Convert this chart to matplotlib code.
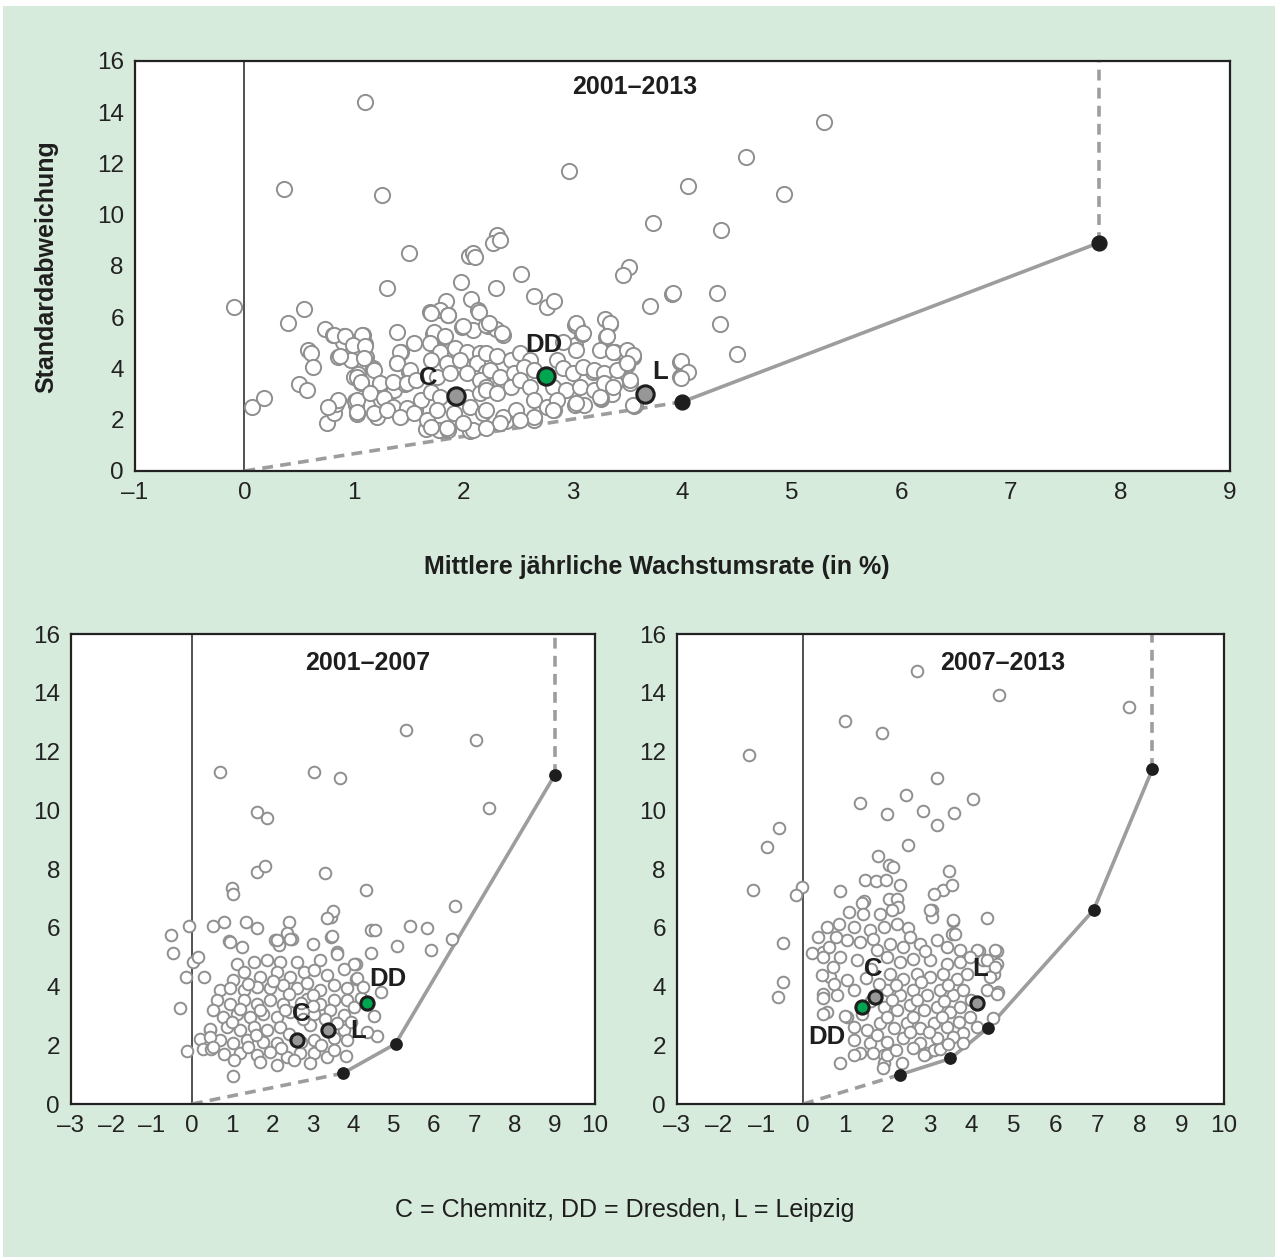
import numpy as np
import matplotlib
matplotlib.use("Agg")
import matplotlib.pyplot as plt
from matplotlib.patches import Rectangle

plt.rcParams['font.family'] = ['Liberation Sans', 'DejaVu Sans']

# --- data: (mean growth rate %, standard deviation) ---
# panel 2001-2013
pts_all = [
    (-0.10, 6.41), (0.07, 2.50), (0.18, 2.83), (0.36, 10.99), (1.10, 14.40), (1.26, 10.78),
    (2.96, 11.69), (3.73, 9.66), (1.50, 8.49), (2.31, 9.19), (2.27, 8.90),
    (2.33, 9.00), (2.05, 8.39), (2.09, 8.52), (2.11, 8.36), (1.30, 7.16), (1.98, 7.37),
    (2.30, 7.16), (2.53, 7.68), (3.51, 7.97), (3.46, 7.63), (2.64, 6.82), (2.76, 6.38),
    (2.83, 6.64), (3.70, 6.43), (3.90, 6.90), (1.84, 6.64), (1.69, 6.20), (1.79, 6.28),
    (1.86, 6.07), (2.07, 6.72), (2.13, 6.30), (0.54, 6.33), (0.40, 5.78), (0.74, 5.55),
    (0.81, 5.29), (0.91, 5.26), (0.90, 5.03), (1.08, 5.29), (1.10, 4.95), (1.03, 4.77),
    (1.11, 4.45), (1.39, 5.42), (0.58, 4.74), (0.61, 4.61), (0.63, 4.04), (0.85, 4.45),
    (0.97, 4.32), (1.17, 4.01), (0.50, 3.41), (0.57, 3.15), (0.75, 1.88), (0.82, 2.27),
    (0.84, 2.60), (1.02, 2.58), (1.03, 2.24), (1.01, 2.73), (1.00, 3.67), (1.06, 3.44),
    (1.04, 3.80), (1.24, 3.41), (1.21, 2.11), (1.25, 2.76), (1.36, 2.42), (1.43, 2.14),
    (1.37, 3.18), (1.43, 4.64), (1.55, 5.00), (1.39, 4.22), (1.50, 3.85), (1.47, 3.41),
    (1.56, 2.37), (1.66, 1.64), (1.72, 5.36), (1.82, 5.21), (1.78, 1.61), (1.86, 1.61),
    (2.06, 1.56), (1.99, 5.62), (2.09, 5.52), (2.22, 5.65), (2.30, 5.55), (2.36, 5.29),
    (2.64, 2.00), (2.39, 1.95), (2.83, 2.37), (3.02, 5.68), (3.08, 5.34), (3.29, 5.94),
    (3.34, 5.75), (3.30, 5.21), (3.38, 4.64), (3.48, 4.51), (3.54, 4.45), (3.48, 4.17),
    (3.52, 3.44), (3.56, 2.53), (3.02, 4.90), (3.02, 2.58), (3.10, 2.58), (3.26, 2.79),
    (3.38, 3.44), (3.18, 3.88), (3.98, 4.24), (3.98, 3.67),
    (5.29, 13.63), (4.58, 12.25), (4.05, 11.13), (4.93, 10.79), (4.35, 9.41), (3.91, 6.94),
    (4.32, 6.94), (4.34, 5.74), (4.50, 4.57), (3.99, 4.28), (4.05, 3.87), (3.99, 3.63),
    (3.57, 2.57), (3.04, 5.64), (3.08, 5.33), (3.55, 4.43), (3.49, 4.12), (3.36, 3.00),
    (3.26, 2.83),
    (1.70, 6.16), (1.86, 6.09), (2.14, 6.22), (0.82, 5.31), (0.92, 5.25), (1.07, 5.31),
    (1.73, 5.44), (1.83, 5.25), (2.00, 5.64), (2.21, 5.70), (0.99, 4.92), (1.10, 4.86),
    (0.87, 4.47), (1.09, 4.40), (1.42, 4.66), (1.69, 4.99), (1.79, 4.66), (1.92, 4.79),
    (2.03, 4.66), (2.15, 4.60), (1.39, 4.20), (1.51, 3.94), (1.70, 4.34), (1.85, 4.20),
    (1.97, 4.34), (2.12, 4.20), (2.21, 3.88), (1.03, 3.68), (1.18, 3.94), (1.06, 3.49),
    (1.24, 3.42), (1.36, 3.49), (1.48, 3.42), (1.57, 3.55), (1.76, 3.68), (1.88, 3.81),
    (2.03, 3.81), (2.15, 3.55), (0.85, 2.77), (0.76, 2.51), (1.03, 2.77), (1.03, 2.32),
    (1.15, 3.03), (1.27, 2.84), (1.36, 2.51), (1.48, 2.45), (1.61, 2.77), (1.70, 3.10),
    (1.79, 2.90), (2.03, 2.90), (2.15, 3.03), (2.21, 3.29), (1.18, 2.25), (1.30, 2.38),
    (1.42, 2.12), (1.55, 2.25), (1.67, 1.99), (1.76, 2.38), (1.91, 2.25), (2.06, 2.51),
    (2.18, 2.25), (1.70, 1.73), (1.85, 1.67), (2.09, 1.60), (2.00, 1.86),
    (2.23, 5.77), (2.35, 5.38), (3.03, 5.77), (3.09, 5.38), (3.34, 5.77), (3.31, 5.25),
    (2.91, 5.05), (3.03, 4.73), (3.25, 4.73), (3.37, 4.66), (3.49, 4.73), (3.55, 4.53),
    (2.21, 4.60), (2.31, 4.47), (2.43, 4.34), (2.52, 4.60), (2.61, 4.34), (2.85, 4.34),
    (2.24, 3.95), (2.33, 3.68), (2.46, 3.81), (2.55, 4.07), (2.64, 3.94), (2.91, 4.01),
    (3.00, 3.81), (3.09, 4.07), (3.19, 3.94), (3.28, 3.81), (3.40, 3.94), (3.49, 4.20),
    (3.52, 3.55), (2.21, 3.16), (2.31, 3.03), (2.43, 3.29), (2.52, 3.55), (2.61, 3.29),
    (2.82, 3.29), (2.94, 3.16), (3.06, 3.29), (3.19, 3.16), (3.28, 3.42), (3.37, 3.29),
    (2.21, 2.38), (2.36, 2.12), (2.48, 2.38), (2.64, 2.77), (2.76, 2.51), (2.85, 2.77),
    (3.03, 2.64), (3.25, 2.90), (2.64, 2.12), (2.82, 2.38), (2.52, 1.99), (2.33, 1.86),
    (2.21, 1.67), (3.55, 2.58),
]
frontier_all = [(0.0, 0.0), (4.0, 2.7), (7.8, 8.9)]
cities_all = {"C": (1.93, 2.93), "DD": (2.75, 3.71), "L": (3.66, 3.00)}

# panel 2001-2007
pts_early = [
    (0.70, 11.29), (3.03, 11.29), (3.68, 11.09), (5.32, 12.72), (7.04, 12.38), (7.36, 10.07),
    (1.62, 9.93), (1.87, 9.73), (0.99, 7.34), (1.01, 7.14), (1.61, 7.90), (1.80, 8.09),
    (3.29, 7.87), (4.31, 7.30), (3.46, 6.36), (3.51, 6.56), (5.41, 6.07), (5.84, 6.00),
    (6.52, 6.73), (6.44, 5.61), (5.92, 5.24), (5.09, 5.37), (4.43, 5.92), (4.55, 5.92),
    (4.45, 5.13), (4.06, 4.78), (4.08, 4.27), (4.68, 3.82), (4.51, 3.01), (4.59, 2.33),
    (4.34, 2.46), (3.81, 1.65),
    (-0.53, 5.75), (-0.48, 5.15), (-0.07, 6.06), (0.53, 6.06), (0.80, 6.20), (1.34, 6.20),
    (1.61, 6.00), (2.40, 6.20), (3.35, 6.34), (0.93, 5.56), (1.24, 5.35), (2.06, 5.60),
    (2.15, 5.43), (2.35, 5.81), (2.48, 5.61), (3.00, 5.46), (3.46, 5.69), (3.60, 5.18),
    (0.02, 4.84), (0.16, 4.99), (-0.15, 4.33), (0.30, 4.31), (-0.29, 3.27), (-0.13, 1.80),
    (0.20, 2.20), (0.27, 1.89), (0.47, 1.89), (0.45, 2.52), (1.01, 0.96),
    (1.11, 4.78), (1.53, 4.84), (1.86, 4.90), (2.19, 4.84), (2.60, 4.84), (3.18, 4.90),
    (3.60, 5.12), (4.01, 4.78), (1.28, 4.50), (1.69, 4.33), (2.11, 4.50), (2.44, 4.33),
    (2.77, 4.50), (3.02, 4.56), (3.35, 4.39), (3.76, 4.61), (4.09, 4.28), (1.03, 4.22),
    (0.70, 3.88), (0.95, 3.94), (1.28, 3.88), (1.61, 4.00), (1.94, 3.94), (2.27, 4.05),
    (2.60, 3.94), (2.85, 4.11), (3.18, 3.88), (3.52, 4.05), (3.85, 3.94), (0.61, 3.54),
    (0.95, 3.42), (1.28, 3.54), (1.61, 3.42), (1.94, 3.54), (2.27, 3.42), (2.85, 3.59),
    (3.18, 3.42), (3.52, 3.54), (3.85, 3.54), (4.01, 3.31), (0.53, 3.20), (0.78, 2.97),
    (1.11, 3.08), (1.44, 2.97), (1.77, 3.08), (2.11, 2.97), (2.44, 3.14), (3.02, 3.08),
    (3.43, 3.20), (3.76, 3.03), (0.45, 2.57), (0.86, 2.63), (1.19, 2.52), (1.53, 2.63),
    (1.86, 2.52), (2.19, 2.63), (2.94, 2.69), (3.76, 2.52), (0.70, 2.18), (1.03, 2.07),
    (1.36, 2.18), (1.77, 2.12), (2.11, 2.07), (3.02, 2.18), (3.52, 2.24), (3.85, 2.18),
    (1.19, 1.73), (1.61, 1.67), (1.94, 1.78), (2.36, 1.61), (2.69, 1.73), (3.02, 1.73),
    (3.35, 1.61), (3.52, 1.84), (1.69, 1.44), (2.11, 1.33), (2.52, 1.50), (2.94, 1.39),
    (0.45, 2.29), (0.53, 1.95), (0.95, 5.52), (2.11, 5.58), (2.44, 5.63), (3.48, 5.71),
    (1.40, 4.10), (2.00, 4.20), (2.40, 3.75), (3.00, 3.70), (1.20, 3.25), (1.70, 3.20),
    (2.30, 3.20), (3.30, 2.90), (1.00, 2.80), (1.60, 2.35), (2.40, 2.40), (2.70, 2.10),
    (3.20, 2.00), (1.40, 1.95), (2.20, 1.90), (0.80, 1.70), (3.00, 3.35), (2.70, 3.45),
    (3.60, 2.75), (4.20, 3.60), (4.25, 4.00), (3.95, 2.80), (1.05, 1.50), (2.75, 2.90),
]
frontier_early = [(0.0, 0.0), (3.75, 1.05), (5.05, 2.05), (9.0, 11.2)]
cities_early = {"C": (2.61, 2.18), "DD": (4.33, 3.44), "L": (3.38, 2.52)}

# panel 2007-2013
pts_late = [
    (2.71, 14.74), (4.66, 13.94), (0.99, 13.03), (1.88, 12.64), (-1.29, 11.87), (7.75, 13.50),
    (3.18, 11.11), (2.45, 10.53), (4.03, 10.38), (1.36, 10.26), (2.84, 9.97), (1.99, 9.88),
    (3.59, 9.91), (3.19, 9.49), (-0.57, 9.41), (-0.87, 8.75), (2.49, 8.83), (-1.20, 7.28),
    (-0.04, 7.39), (-0.18, 7.13), (1.77, 8.43), (2.05, 8.13), (2.14, 8.07), (3.47, 7.93),
    (3.33, 7.28), (3.54, 7.45), (3.10, 7.16), (0.88, 7.26), (1.47, 7.62), (1.72, 7.59),
    (1.96, 7.62), (2.29, 7.47), (-0.47, 5.47), (-0.47, 4.15), (-0.59, 3.63), (4.36, 6.34),
    (2.05, 6.99), (2.24, 6.99), (1.45, 6.90), (3.06, 6.62), (3.06, 6.35), (3.56, 6.23),
    (3.54, 5.80), (3.62, 5.80), (4.17, 5.20), (4.60, 5.20), (4.60, 4.78), (4.28, 4.92),
    (4.54, 4.44), (4.62, 3.80), (4.36, 3.88), (4.51, 2.93),
    (1.39, 6.83), (2.26, 6.71), (1.08, 6.54), (1.43, 6.48), (1.83, 6.48), (2.11, 6.60),
    (2.50, 5.98), (2.54, 5.69), (0.56, 6.03), (0.84, 6.14), (1.20, 6.03), (1.59, 5.92),
    (1.91, 6.03), (2.22, 6.14), (3.02, 6.60), (3.57, 6.26), (1.04, 5.58), (1.35, 5.52),
    (1.67, 5.63), (2.07, 5.46), (2.38, 5.35), (2.78, 5.46), (3.17, 5.58), (3.41, 5.35),
    (3.73, 5.24), (4.13, 5.24), (4.56, 5.24), (0.48, 5.18), (0.88, 5.01), (1.27, 4.90),
    (1.99, 5.01), (2.30, 4.84), (2.62, 4.95), (3.02, 4.90), (3.41, 4.78), (3.73, 4.84),
    (3.97, 5.01), (4.36, 4.90), (4.56, 4.67), (0.64, 4.33), (1.04, 4.22), (2.07, 4.44),
    (2.38, 4.27), (2.70, 4.44), (3.02, 4.33), (3.33, 4.44), (3.65, 4.27), (3.89, 4.44),
    (4.44, 4.33), (0.48, 3.76), (0.80, 3.71), (1.20, 3.88), (1.99, 3.88), (2.30, 3.71),
    (2.62, 3.88), (2.94, 3.71), (3.25, 3.88), (3.57, 3.71), (3.81, 3.88), (4.60, 3.76),
    (0.56, 3.14), (1.04, 2.97), (1.91, 3.31), (2.23, 3.20), (2.54, 3.37), (2.86, 3.20),
    (3.17, 3.31), (3.49, 3.14), (3.73, 3.31), (3.97, 2.97), (1.20, 2.63), (1.51, 2.52),
    (1.83, 2.75), (2.15, 2.58), (2.46, 2.75), (2.78, 2.58), (3.10, 2.75), (3.41, 2.63),
    (3.81, 2.41), (4.13, 2.63), (1.20, 2.18), (1.59, 2.07), (1.99, 2.12), (2.38, 2.24),
    (2.78, 2.07), (3.17, 2.24), (3.57, 2.29), (3.81, 2.07), (1.35, 1.73), (1.91, 1.67),
    (2.94, 1.73), (3.10, 1.84), (0.88, 1.38), (1.91, 1.39),
    (0.36, 5.67), (0.20, 5.15), (0.61, 5.36), (0.48, 5.01), (0.71, 4.67), (0.45, 4.40),
    (0.73, 4.09), (0.48, 3.62), (0.46, 3.06), (1.89, 1.24), (2.35, 1.40), (1.21, 1.67),
    (1.67, 1.72), (2.00, 1.67), (2.86, 1.67), (3.25, 1.86), (1.00, 2.99), (0.77, 5.70),
    (1.60, 4.60), (1.80, 4.10), (2.20, 4.05), (2.80, 4.15), (3.45, 4.05), (1.60, 3.50),
    (2.10, 3.55), (2.70, 3.55), (3.35, 3.50), (4.00, 3.55), (1.40, 3.05), (2.00, 2.95),
    (2.60, 2.95), (3.30, 2.95), (3.70, 2.80), (1.75, 2.35), (2.55, 2.45), (3.00, 2.45),
    (3.45, 2.05), (2.20, 1.85), (2.60, 1.90), (1.50, 4.30), (2.90, 5.20), (1.75, 5.25),
]
frontier_late = [(0.0, 0.0), (2.3, 1.0), (3.5, 1.55), (4.4, 2.6), (6.9, 6.6), (8.3, 11.4)]
cities_late = {"C": (1.71, 3.64), "DD": (1.40, 3.30), "L": (4.13, 3.44)}

bg = "#d7ebdd"
circ_edge = "#8f8f8f"
line_gray = "#9d9d9d"
dark = "#1e1e1e"
green = "#00a550"

fig = plt.figure(figsize=(12.78, 12.57), dpi=100)
fig.patch.set_facecolor("white")
fig.patches.append(Rectangle((0.002, 0.0), 0.996, 0.995, transform=fig.transFigure,
                             facecolor=bg, edgecolor="none", zorder=-10))

ax_top = fig.add_axes([0.1056, 0.6253, 0.8568, 0.3262])
ax_l = fig.add_axes([0.0556, 0.1217, 0.4100, 0.3739])
ax_r = fig.add_axes([0.5297, 0.1217, 0.4280, 0.3739])


def draw_panel(ax, pts, frontier, cities, xlim, title, title_x, s, label_pos):
    ax.set_xlim(*xlim)
    ax.set_ylim(0, 16)
    ax.set_facecolor("white")
    for sp in ax.spines.values():
        sp.set_color("#222222")
        sp.set_linewidth(1.6)
    ax.tick_params(length=0, labelsize=17.5, pad=8, colors="#222222")
    ax.set_yticks(range(0, 17, 2))
    ax.set_xticks(range(xlim[0], xlim[1] + 1))
    ax.set_xticklabels([str(v).replace("-", "\u2013") for v in range(xlim[0], xlim[1] + 1)])
    ax.axvline(0, color="#222222", lw=1.1, zorder=1)

    fx, fy = np.array(frontier).T
    # dashed from the origin to the first efficient point, solid along the frontier
    ax.plot(fx[:2], fy[:2], color=line_gray, lw=2.6, ls=(0, (3, 2)), zorder=2)
    ax.plot(fx[1:], fy[1:], color=line_gray, lw=2.6, zorder=2)
    ax.plot([fx[-1], fx[-1]], [fy[-1], 16], color=line_gray, lw=2.6, ls=(0, (3, 2)), zorder=2)

    px, py = np.array(pts).T
    ax.scatter(px, py, s=s, facecolor="white", edgecolor=circ_edge, linewidths=1.4, zorder=3)
    ax.scatter(fx[1:], fy[1:], s=s * 0.95, color=dark, zorder=5)

    for name, (cx, cy) in cities.items():
        fc = green if name == "DD" else "#979797"
        ax.scatter([cx], [cy], s=s * 1.3, facecolor=fc, edgecolor=dark, linewidths=2.2, zorder=6)
        lx, ly = label_pos[name]
        ax.text(lx, ly, name, fontsize=18.5, fontweight="bold", color=dark,
                ha="center", va="center", zorder=7)

    ax.text(title_x, 15.0, title, fontsize=18, fontweight="bold", color=dark,
            ha="center", va="center")


draw_panel(ax_top, pts_all, frontier_all, cities_all, (-1, 9), "2001\u20132013", 3.56, 120,
           {"C": (1.68, 3.63), "DD": (2.73, 4.92), "L": (3.80, 3.87)})
draw_panel(ax_l, pts_early, frontier_early, cities_early, (-3, 10), "2001\u20132007", 4.35, 70,
           {"C": (2.71, 3.06), "DD": (4.85, 4.25), "L": (4.13, 2.48)})
draw_panel(ax_r, pts_late, frontier_late, cities_late, (-3, 10), "2007\u20132013", 4.73, 70,
           {"C": (1.66, 4.59), "DD": (0.57, 2.28), "L": (4.20, 4.59)})

fig.text(0.036, 0.788, "Standardabweichung", rotation=90, fontsize=18, fontweight="bold",
         color=dark, ha="center", va="center")
fig.text(0.514, 0.549, "Mittlere jährliche Wachstumsrate (in %)", fontsize=18,
         fontweight="bold", color=dark, ha="center", va="center")
fig.text(0.489, 0.037, "C = Chemnitz, DD = Dresden, L = Leipzig", fontsize=18,
         color=dark, ha="center", va="center")

fig.savefig("out.png", dpi=100, facecolor=fig.get_facecolor())
